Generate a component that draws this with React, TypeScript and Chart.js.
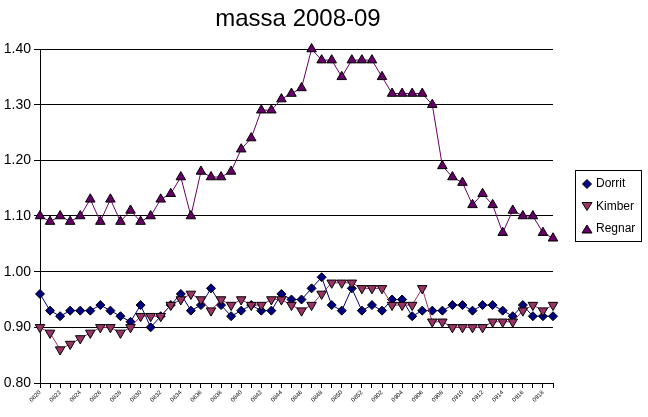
import React, { useEffect, useRef } from 'react';
import { Chart, registerables } from 'chart.js';

Chart.register(...registerables);

const weeks: string[] = [
  '0820', '0821', '0822', '0823', '0824', '0825', '0826', '0827', '0828', '0829',
  '0830', '0831', '0832', '0833', '0834', '0835', '0836', '0837', '0838', '0839',
  '0840', '0841', '0842', '0843', '0844', '0845', '0846', '0847', '0848', '0849',
  '0850', '0851', '0852', '0901', '0902', '0903', '0904', '0905', '0906', '0907',
  '0908', '0909', '0910', '0911', '0912', '0913', '0914', '0915', '0916', '0917',
  '0918', '0919',
];

const dorrit: number[] = [
  0.96, 0.93, 0.92, 0.93, 0.93, 0.93, 0.94, 0.93, 0.92, 0.91,
  0.94, 0.90, 0.92, 0.94, 0.96, 0.93, 0.94, 0.97, 0.94, 0.92,
  0.93, 0.94, 0.93, 0.93, 0.96, 0.95, 0.95, 0.97, 0.99, 0.94,
  0.93, 0.97, 0.93, 0.94, 0.93, 0.95, 0.95, 0.92, 0.93, 0.93,
  0.93, 0.94, 0.94, 0.93, 0.94, 0.94, 0.93, 0.92, 0.94, 0.92,
  0.92, 0.92,
];

const kimber: number[] = [
  0.90, 0.89, 0.86, 0.87, 0.88, 0.89, 0.90, 0.90, 0.89, 0.90,
  0.92, 0.92, 0.92, 0.94, 0.95, 0.96, 0.95, 0.93, 0.95, 0.94,
  0.95, 0.94, 0.94, 0.95, 0.95, 0.94, 0.93, 0.94, 0.96, 0.98,
  0.98, 0.98, 0.97, 0.97, 0.97, 0.94, 0.94, 0.94, 0.97, 0.91,
  0.91, 0.90, 0.90, 0.90, 0.90, 0.91, 0.91, 0.91, 0.93, 0.94,
  0.93, 0.94,
];

const regnar: number[] = [
  1.10, 1.09, 1.10, 1.09, 1.10, 1.13, 1.09, 1.13, 1.09, 1.11,
  1.09, 1.10, 1.13, 1.14, 1.17, 1.10, 1.18, 1.17, 1.17, 1.18,
  1.22, 1.24, 1.29, 1.29, 1.31, 1.32, 1.33, 1.40, 1.38, 1.38,
  1.35, 1.38, 1.38, 1.38, 1.35, 1.32, 1.32, 1.32, 1.32, 1.30,
  1.19, 1.17, 1.16, 1.12, 1.14, 1.12, 1.07, 1.11, 1.10, 1.10,
  1.07, 1.06,
];

const titleText = 'massa 2008-09';
const seriesNames = ['Dorrit', 'Kimber', 'Regnar'];
const yTicks = [0.8, 0.9, 1.0, 1.1, 1.2, 1.3, 1.4];

const FONT = '"Liberation Sans", Arial, sans-serif';

const colors = {
  dorrit: '#000080',
  kimber: '#993366',
  regnar: '#660066',
};

const decorPlugin = {
  id: 'decor',
  afterDraw(chart: any) {
    const ctx = chart.ctx as CanvasRenderingContext2D;
    ctx.save();
    // title
    ctx.fillStyle = '#000';
    ctx.font = `24px ${FONT}`;
    ctx.textAlign = 'center';
    ctx.textBaseline = 'middle';
    ctx.fillText(titleText, 298, 19);

    // legend
    const lx = 575.5, ly = 170.5, lw = 66, lh = 71;
    ctx.fillStyle = '#fff';
    ctx.fillRect(lx, ly, lw, lh);
    ctx.strokeStyle = '#000';
    ctx.lineWidth = 1;
    ctx.strokeRect(lx, ly, lw, lh);
    const metas = chart.data.datasets;
    metas.forEach((ds: any, i: number) => {
      const cy = 184 + i * 22.5;
      const cx = 587;
      ctx.save();
      ctx.fillStyle = ds.pointBackgroundColor;
      ctx.strokeStyle = '#000';
      ctx.lineWidth = 1;
      ctx.beginPath();
      if (ds.pointStyle === 'rectRot') {
        const r = 4.5;
        ctx.moveTo(cx, cy - r);
        ctx.lineTo(cx + r, cy);
        ctx.lineTo(cx, cy + r);
        ctx.lineTo(cx - r, cy);
      } else if (ds.pointRotation === 180) {
        ctx.moveTo(cx - 5, cy - 4);
        ctx.lineTo(cx + 5, cy - 4);
        ctx.lineTo(cx, cy + 4);
      } else {
        ctx.moveTo(cx - 5, cy + 4);
        ctx.lineTo(cx + 5, cy + 4);
        ctx.lineTo(cx, cy - 4);
      }
      ctx.closePath();
      ctx.fill();
      ctx.stroke();
      ctx.restore();
      ctx.fillStyle = '#000';
      ctx.font = `12px ${FONT}`;
      ctx.textAlign = 'left';
      ctx.textBaseline = 'middle';
      ctx.fillText(ds.label, 596, cy);
    });
    ctx.restore();
  },
};

export default function App() {
  const ref = useRef<HTMLCanvasElement | null>(null);

  useEffect(() => {
    if (!ref.current) return;
    const common = {
      borderWidth: 1,
      pointBorderColor: '#000',
      pointBorderWidth: 1,
      tension: 0,
      clip: false as any,
    };
    const chart = new Chart(ref.current, {
      type: 'line',
      data: {
        labels: weeks,
        datasets: [
          {
            ...common,
            label: seriesNames[0],
            data: dorrit,
            borderColor: colors.dorrit,
            backgroundColor: colors.dorrit,
            pointBackgroundColor: colors.dorrit,
            pointStyle: 'rectRot',
            pointRadius: 4.5,
            order: 3,
          },
          {
            ...common,
            label: seriesNames[1],
            data: kimber,
            borderColor: colors.kimber,
            backgroundColor: colors.kimber,
            pointBackgroundColor: colors.kimber,
            pointStyle: 'triangle',
            pointRotation: 180,
            pointRadius: 5.5,
            order: 2,
          },
          {
            ...common,
            label: seriesNames[2],
            data: regnar,
            borderColor: colors.regnar,
            backgroundColor: colors.regnar,
            pointBackgroundColor: colors.regnar,
            pointStyle: 'triangle',
            pointRadius: 5.5,
            order: 1,
          },
        ] as any,
      },
      options: {
        animation: false,
        responsive: false,
        devicePixelRatio: 1,
        layout: { padding: { top: 49, right: 95, left: 0, bottom: 0 } },
        plugins: {
          legend: { display: false },
          title: { display: false },
          tooltip: { enabled: false },
        },
        scales: {
          x: {
            type: 'category',
            offset: false,
            grid: {
              display: true,
              drawOnChartArea: false,
              drawTicks: true,
              tickLength: 5,
              color: '#000',
              lineWidth: 1,
            },
            border: { display: true, color: '#000', width: 1 },
            ticks: {
              autoSkip: false,
              maxRotation: 45,
              minRotation: 45,
              padding: 1,
              color: '#000',
              font: { family: FONT, size: 6 },
              callback: (_v: any, i: number) => (i % 2 === 0 ? weeks[i] : ''),
            },
            afterFit: (s: any) => {
              s.height = 34;
            },
          },
          y: {
            type: 'linear',
            min: 0.8,
            max: 1.4,
            afterBuildTicks: (s: any) => {
              s.ticks = yTicks.map((v) => ({ value: v }));
            },
            grid: {
              color: '#000',
              lineWidth: 1,
              drawTicks: true,
              tickLength: 6,
            },
            border: { display: true, color: '#000', width: 1 },
            ticks: {
              padding: 3,
              color: '#000',
              font: { family: FONT, size: 14 },
              callback: (v: any) => Number(v).toFixed(2),
            },
            afterFit: (s: any) => {
              s.width = 40;
            },
          },
        },
      },
      plugins: [decorPlugin],
    });
    return () => chart.destroy();
  }, []);

  return (
    <div style={{ position: 'fixed', left: 0, top: 0, width: 648, height: 417, background: '#fff' }}>
      <canvas ref={ref} width={648} height={417} style={{ width: 648, height: 417 }} />
    </div>
  );
}
